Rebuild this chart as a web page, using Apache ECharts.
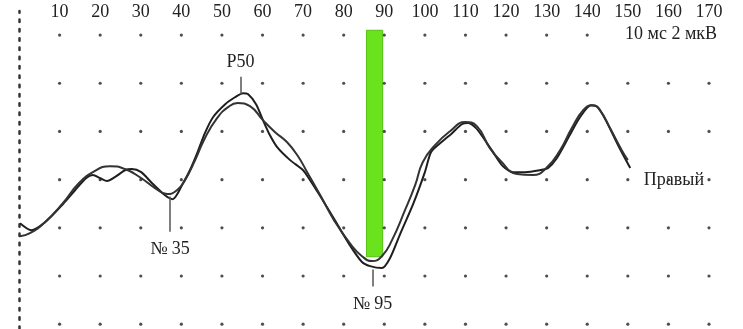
<!DOCTYPE html>
<html>
<head>
<meta charset="utf-8">
<script src="https://cdn.jsdelivr.net/npm/echarts@6/dist/echarts.min.js"></script>
<style>
  html, body { margin: 0; padding: 0; background: #fff; }
  #perg { width: 743px; height: 329px; }
</style>
</head>
<body>
<div id="perg"></div>
<script>
// time ticks (ms) along the top, grid rows (µV)
var xTickLabels = [10, 20, 30, 40, 50, 60, 70, 80, 90, 100, 110, 120, 130, 140, 150, 160, 170];
var gridRows = [6, 4, 2, 0, -2, -4, -6];

// recorded curve (the one with the knees)
var rawTimes = [0.25, 3, 6.4, 10.8, 13.8, 16.5, 18.2, 20, 21.7, 23.6, 26.1, 27.8, 30.1, 32.8, 35.9, 37.9, 40.4, 42.1, 43.9,
    45.8, 47.8, 50.8, 53.2, 55.2, 56.4, 58.4, 60.1, 61.8, 63.6, 66.8, 70, 71.4, 74.2, 78.1, 81.5, 84.5, 86.5, 89.4, 91.4,
    93.9, 97.1, 100, 101.5, 103.8, 106.7, 109.1, 110.6, 112.6, 114.8, 116.8, 119.2, 121.7, 124.7, 128.3, 130.3, 132.5,
    135.7, 138.2, 140.9, 142.6, 144.8, 147.6, 150.6];
var rawValues = [-1.81, -2.1, -1.77, -1.02, -0.44, 0.06, 0.19, 0.06, -0.06, 0.1, 0.39, 0.44, 0.31, -0.15, -0.64, -0.81, -0.15, 0.39, 1.1,
    1.93, 2.59, 3.13, 3.42, 3.59, 3.55, 3.13, 2.47, 1.85, 1.35, 0.81, 0.39, 0.06, -0.68, -1.76, -2.72, -3.42, -3.59, -3.67, -3.26,
    -2.26, -1.02, 0.31, 1.14, 1.52, 1.93, 2.3, 2.35, 2.14, 1.64, 1.14, 0.56, 0.31, 0.31, 0.39, 0.48, 0.89,
    1.85, 2.59, 3.09, 3.01, 2.39, 1.43, 0.48];

// smooth fitted curve
var fitTimes = [0.25, 2.7, 6.4, 10.8, 14.5, 18.2, 22.4, 26.1, 29.8, 33.5, 36.5, 38.9, 40.9, 43.4, 45.8, 48.8, 51.5, 53.9,
    56.9, 60.1, 63.1, 66, 68.7, 71, 74.2, 77.6, 81.5, 84.5, 87, 89.4, 91.9, 95.1, 97.6, 99.5, 102.5, 106.2, 109.9,
    112.8, 116, 118.5, 122.7, 126.6, 129.9, 133.3, 136.2, 139, 141.2, 143.1, 145.6, 148.5, 150];
var fitValues = [-2.35, -2.22, -1.77, -0.98, -0.19, 0.31, 0.56, 0.44, 0.1, -0.35, -0.6, -0.44, -0.02, 0.81, 1.72, 2.55, 3.01, 3.18,
    3.05, 2.47, 1.97, 1.56, 0.98, 0.31, -0.64, -1.68, -2.64, -3.18, -3.38, -3.18, -2.51, -1.27, -0.23, 0.73, 1.43, 2.01, 2.39,
    2.22, 1.31, 0.81, 0.23, 0.19, 0.48, 1.22, 2.14, 2.88, 3.09, 2.89, 2.14, 1.22, 0.81];

// peak markers
var peakNames = ['P50', '№ 35', '№ 95'];
var peakTimes = [54.6, 37.2, 87.1];
var peakTickFrom = [3.53, -0.7, -3.73];
var peakTickTo = [4.27, -2.16, -4.44];

// green stimulus band
var bandFrom = 85.6, bandTo = 89.6, bandTop = 6.2, bandBottom = -3.2;

var serif = 'Liberation Serif';

function zip(a, b) {
    var out = [];
    for (var i = 0; i < a.length; i++) out.push([a[i], b[i]]);
    return out;
}

var dots = [];
xTickLabels.forEach(function (t) {
    gridRows.forEach(function (r) { dots.push([t, r]); });
});

var peakLines = peakNames.map(function (n, i) {
    return [
        // labels below the curve sit a little further from their tick
        { name: n, coord: [peakTimes[i], peakTickFrom[i]], label: { distance: i === 0 ? 6 : 9 } },
        { coord: [peakTimes[i], peakTickTo[i]] }
    ];
});

var chartDom = document.getElementById('perg');
var myChart = echarts.init(chartDom);
var option;

option = {
    animation: false,
    backgroundColor: '#fff',
    title: {
        text: '10 мс 2 мкВ',
        left: 623,
        top: 25,
        padding: [0, 2],
        backgroundColor: '#fff',
        textStyle: { fontFamily: serif, fontSize: 18, fontWeight: 'normal', color: '#222' }
    },
    grid: { left: 19, right: 13.7, top: 11, bottom: 0 },
    xAxis: {
        type: 'value',
        position: 'top',
        min: 0,
        max: 175,
        interval: 10,
        axisLine: { show: false },
        axisTick: { show: false },
        splitLine: { show: false },
        axisLabel: {
            customValues: xTickLabels,
            margin: -10,
            fontFamily: serif,
            fontSize: 18,
            color: '#222'
        }
    },
    yAxis: {
        type: 'value',
        min: -6.2,
        max: 7,
        axisLine: { show: true, lineStyle: { color: '#333', width: 2.5, type: [2.5, 6.8] } },
        axisTick: { show: false },
        axisLabel: { show: false },
        splitLine: { show: false }
    },
    series: [
        {
            name: 'grid',
            type: 'scatter',
            data: dots,
            symbolSize: 3.2,
            itemStyle: { color: '#222' },
            silent: true,
            z: 1
        },
        {
            name: 'raw',
            type: 'line',
            data: zip(rawTimes, rawValues),
            smooth: 0.25,
            symbol: 'none',
            lineStyle: { color: '#1e1e1e', width: 2 },
            z: 3,
            markArea: {
                silent: true,
                itemStyle: { color: '#6ae21c', borderColor: '#55c015', borderWidth: 1 },
                data: [[{ coord: [bandFrom, bandTop] }, { coord: [bandTo, bandBottom] }]]
            },
            markLine: {
                silent: true,
                symbol: ['none', 'none'],
                lineStyle: { color: '#555', width: 1.5, type: 'solid' },
                label: {
                    position: 'end',
                    distance: 6,
                    formatter: '{b}',
                    fontFamily: serif,
                    fontSize: 18,
                    color: '#222'
                },
                data: peakLines
            }
        },
        {
            name: 'fit',
            type: 'line',
            data: zip(fitTimes, fitValues),
            smooth: 0.5,
            symbol: 'none',
            lineStyle: { color: '#333', width: 2 },
            z: 3,
            endLabel: {
                show: true,
                formatter: 'Правый',
                offset: [8, 20],
                fontFamily: serif,
                fontSize: 18,
                color: '#222'
            }
        }
    ]
};

option && myChart.setOption(option);
</script>
</body>
</html>
